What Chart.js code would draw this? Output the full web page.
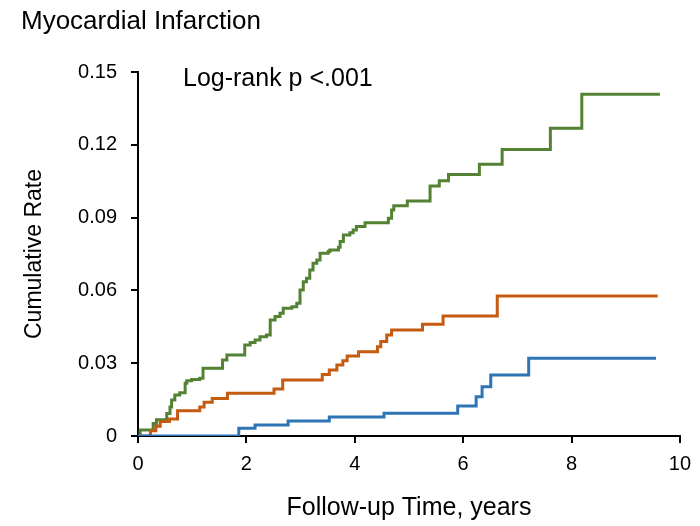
<!DOCTYPE html>
<html>
<head>
<meta charset="utf-8">
<script src="https://cdn.jsdelivr.net/npm/chart.js@4/dist/chart.umd.min.js"></script>
<style>
  html, body { margin: 0; padding: 0; background: #ffffff; }
  #wrap { width: 700px; height: 526px; position: relative; }
</style>
</head>
<body>
<div id="wrap"><canvas id="c" width="700" height="526"></canvas></div>
<script>
// ---- Data ----
const chartTitle = "Myocardial Infarction";
const annotationText = "Log-rank p <.001";
const xTitle = "Follow-up Time, years";
const yTitle = "Cumulative Rate";

const xTicks = [0, 2, 4, 6, 8, 10];
const yTicks = [0, 0.03, 0.06, 0.09, 0.12, 0.15];

// Green series: event times and cumulative rates
const greenTimes = [0, 0.04, 0.28, 0.34, 0.53, 0.59, 0.62, 0.68, 0.77, 0.87, 0.90, 0.99, 1.14, 1.20, 1.56, 1.64, 1.97, 2.07, 2.16, 2.25, 2.37, 2.44, 2.53, 2.62, 2.68, 2.84, 2.93, 2.99, 3.05, 3.11, 3.17, 3.23, 3.30, 3.36, 3.51, 3.54, 3.70, 3.73, 3.79, 3.91, 3.97, 4.03, 4.19, 4.62, 4.68, 4.72, 4.97, 5.39, 5.56, 5.73, 6.30, 6.72, 7.61, 8.19, 9.63];
const greenRates = [0, 0.0025, 0.0052, 0.0067, 0.0093, 0.0120, 0.0148, 0.0169, 0.0178, 0.0217, 0.0228, 0.0233, 0.0238, 0.0279, 0.0313, 0.0334, 0.0375, 0.0385, 0.0396, 0.0409, 0.0416, 0.0478, 0.0492, 0.0506, 0.0526, 0.0533, 0.0547, 0.0602, 0.0636, 0.0650, 0.0684, 0.0712, 0.0725, 0.0753, 0.0760, 0.0766, 0.0778, 0.0801, 0.0828, 0.0838, 0.0849, 0.0863, 0.0879, 0.0897, 0.0931, 0.0949, 0.0968, 0.1030, 0.1052, 0.1078, 0.1120, 0.1181, 0.1268, 0.1408, 0.1408];

// Orange series
const orangeTimes = [0, 0.23, 0.33, 0.41, 0.58, 0.73, 1.14, 1.22, 1.37, 1.65, 2.51, 2.67, 3.40, 3.53, 3.67, 3.78, 3.86, 4.07, 4.42, 4.48, 4.59, 4.68, 5.25, 5.63, 6.63, 9.59];
const orangeRates = [0, 0.0022, 0.0040, 0.0060, 0.0070, 0.0104, 0.0120, 0.0139, 0.0155, 0.0176, 0.0194, 0.0231, 0.0253, 0.0272, 0.0293, 0.0310, 0.0330, 0.0347, 0.0368, 0.0389, 0.0416, 0.0437, 0.0461, 0.0494, 0.0577, 0.0577];

// Blue series
const blueTimes = [0, 1.86, 2.16, 2.77, 3.53, 4.54, 5.90, 6.24, 6.35, 6.51, 7.21, 9.56];
const blueRates = [0, 0.0032, 0.0045, 0.0062, 0.0078, 0.0094, 0.0124, 0.0162, 0.0203, 0.0251, 0.0320, 0.0320];

// ---- Build datasets ----
function pts(xs, ys) { return xs.map((x, i) => ({ x: x, y: ys[i] })); }

const FONT = "'Liberation Sans', Arial, Helvetica, sans-serif";

const textPlugin = {
  id: 'texts',
  afterDraw(chart) {
    const ctx = chart.ctx;
    ctx.save();
    ctx.fillStyle = '#000000';
    ctx.textAlign = 'left';
    ctx.textBaseline = 'alphabetic';
    ctx.font = "26px " + FONT;
    ctx.fillText(chartTitle, 21, 29);
    ctx.font = "25px " + FONT;
    ctx.fillText(annotationText, 183, 86);
    ctx.restore();
  }
};

const ds = (label, xs, ys, color) => ({
  label: label,
  data: pts(xs, ys),
  borderColor: color,
  backgroundColor: color,
  borderWidth: 3,
  pointRadius: 0,
  stepped: 'before',
  fill: false,
  tension: 0
});

new Chart(document.getElementById('c'), {
  type: 'line',
  data: {
    datasets: [
      ds('Blue', blueTimes, blueRates, '#2E75B6'),
      ds('Orange', orangeTimes, orangeRates, '#C55A11'),
      ds('Green', greenTimes, greenRates, '#548235')
    ]
  },
  options: {
    responsive: false,
    animation: false,
    layout: { padding: { left: 0, right: 20, top: 72, bottom: 0 } },
    plugins: {
      legend: { display: false },
      tooltip: { enabled: false },
      title: { display: false }
    },
    scales: {
      x: {
        type: 'linear',
        min: 0, max: 10,
        afterBuildTicks: (s) => { s.ticks = xTicks.map(v => ({ value: v })); },
        afterFit: (s) => { s.height = 90; },
        ticks: { color: '#000', font: { family: FONT, size: 20 }, padding: 9, maxRotation: 0 },
        grid: { display: true, drawOnChartArea: false, drawTicks: true, tickLength: 7, tickColor: '#000', lineWidth: 2, tickWidth: 2 },
        border: { display: true, color: '#000', width: 2 },
        title: { display: true, text: xTitle, color: '#000', font: { family: FONT, size: 25 }, padding: { top: 0, bottom: 3 } }
      },
      y: {
        type: 'linear',
        min: 0, max: 0.15,
        afterBuildTicks: (s) => { s.ticks = yTicks.map(v => ({ value: v })); },
        afterFit: (s) => { s.width = 138; },
        ticks: {
          color: '#000', font: { family: FONT, size: 20 }, padding: 14,
          callback: (v) => v === 0 ? '0' : v.toFixed(2)
        },
        grid: { display: true, drawOnChartArea: false, drawTicks: true, tickLength: 7, tickColor: '#000', lineWidth: 2, tickWidth: 2 },
        border: { display: true, color: '#000', width: 2 },
        title: { display: true, text: yTitle, color: '#000', font: { family: FONT, size: 23 }, padding: { top: 21, bottom: 0 } }
      }
    }
  },
  plugins: [textPlugin]
});
</script>
</body>
</html>
